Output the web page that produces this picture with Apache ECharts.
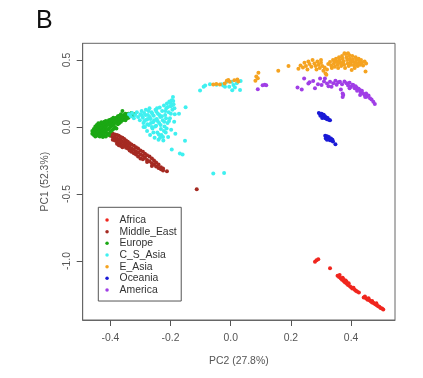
<!DOCTYPE html>
<html>
<head>
<meta charset="utf-8">
<script src="https://cdn.jsdelivr.net/npm/echarts@6/dist/echarts.min.js"></script>
<style>
html,body{margin:0;padding:0;background:#fff;}
#chart{width:423px;height:378px;}
</style>
</head>
<body>
<div id="chart"></div>
<script>
// ---- data: [PC2, PC1] pairs ----
var groupNames = ['Africa', 'Middle_East', 'Europe', 'C_S_Asia', 'E_Asia', 'Oceania', 'America'];
var groupColors = ['#f0261e', '#a52a22', '#1ba814', '#3ff0f0', '#f5a320', '#1a1ad6', '#a03ee6'];
var xTicks = [-0.4, -0.2, 0.0, 0.2, 0.4];
var yTicks = [-1.0, -0.5, 0.0, 0.5];

var africa = [
  [0.280,-1.005],[0.285,-0.995],[0.291,-0.987],[0.330,-1.054],
  [0.355,-1.110],[0.360,-1.120],[0.362,-1.105],[0.366,-1.130],[0.370,-1.140],[0.372,-1.125],
  [0.376,-1.150],[0.380,-1.160],[0.382,-1.145],[0.386,-1.170],[0.390,-1.178],[0.392,-1.165],
  [0.396,-1.188],[0.400,-1.195],[0.404,-1.205],[0.408,-1.200],[0.412,-1.215],[0.416,-1.222],
  [0.420,-1.228],[0.426,-1.235],[0.375,-1.135],[0.385,-1.155],
  [0.442,-1.272],[0.446,-1.265],[0.450,-1.280],[0.455,-1.288],[0.458,-1.278],[0.462,-1.295],
  [0.466,-1.302],[0.470,-1.298],[0.474,-1.312],[0.478,-1.318],[0.482,-1.325],[0.486,-1.330],
  [0.490,-1.338],[0.494,-1.342],[0.498,-1.350],[0.503,-1.355],[0.507,-1.362],[0.484,-1.315],[0.470,-1.310]
];

var middleEast = [
  [-0.410,-0.050],[-0.400,-0.045],[-0.400,-0.065],
  [-0.392,-0.050],[-0.392,-0.075],[-0.392,-0.095],
  [-0.385,-0.055],[-0.385,-0.080],[-0.385,-0.100],
  [-0.378,-0.060],[-0.378,-0.085],[-0.378,-0.110],[-0.378,-0.125],
  [-0.372,-0.065],[-0.372,-0.095],[-0.372,-0.120],[-0.372,-0.135],
  [-0.366,-0.075],[-0.366,-0.100],[-0.366,-0.125],[-0.366,-0.140],
  [-0.360,-0.080],[-0.360,-0.110],[-0.360,-0.135],[-0.360,-0.150],
  [-0.354,-0.090],[-0.354,-0.115],[-0.354,-0.140],
  [-0.348,-0.100],[-0.348,-0.125],[-0.348,-0.155],
  [-0.342,-0.110],[-0.342,-0.135],[-0.342,-0.160],
  [-0.336,-0.120],[-0.336,-0.150],[-0.336,-0.175],
  [-0.330,-0.130],[-0.330,-0.160],[-0.330,-0.185],
  [-0.322,-0.140],[-0.322,-0.170],[-0.322,-0.195],
  [-0.315,-0.150],[-0.315,-0.180],[-0.315,-0.205],
  [-0.308,-0.160],[-0.308,-0.190],[-0.308,-0.220],
  [-0.300,-0.175],[-0.300,-0.205],[-0.300,-0.235],
  [-0.292,-0.185],[-0.292,-0.215],[-0.292,-0.240],
  [-0.285,-0.200],[-0.285,-0.230],
  [-0.278,-0.210],[-0.278,-0.245],[-0.278,-0.260],
  [-0.270,-0.220],[-0.270,-0.255],
  [-0.262,-0.235],[-0.262,-0.270],[-0.262,-0.290],
  [-0.255,-0.250],[-0.255,-0.280],
  [-0.248,-0.265],[-0.248,-0.295],
  [-0.240,-0.280],[-0.240,-0.305],
  [-0.232,-0.300],[-0.232,-0.315],
  [-0.225,-0.310],[-0.225,-0.325],
  [-0.212,-0.330],
  [-0.113,-0.465]
];

var europe = [
  [-0.460,-0.050],[-0.460,-0.030],
  [-0.455,-0.060],[-0.455,-0.040],[-0.455,-0.015],
  [-0.450,-0.070],[-0.450,-0.045],[-0.450,-0.020],[-0.450,0.005],
  [-0.445,-0.055],[-0.445,-0.030],[-0.445,-0.005],[-0.445,0.015],
  [-0.440,-0.065],[-0.440,-0.040],[-0.440,-0.015],[-0.440,0.010],[-0.440,0.028],
  [-0.435,-0.070],[-0.435,-0.050],[-0.435,-0.025],[-0.435,0.000],[-0.435,0.020],
  [-0.430,-0.060],[-0.430,-0.035],[-0.430,-0.010],[-0.430,0.015],[-0.430,0.035],
  [-0.425,-0.075],[-0.425,-0.045],[-0.425,-0.020],[-0.425,0.005],[-0.425,0.030],
  [-0.420,-0.065],[-0.420,-0.040],[-0.420,-0.015],[-0.420,0.010],[-0.420,0.040],
  [-0.415,-0.070],[-0.415,-0.030],[-0.415,0.000],[-0.415,0.025],[-0.415,0.045],
  [-0.410,-0.050],[-0.410,-0.020],[-0.410,0.015],[-0.410,0.035],
  [-0.405,-0.060],[-0.405,-0.010],[-0.405,0.020],[-0.405,0.050],
  [-0.400,-0.035],[-0.400,0.000],[-0.400,0.030],[-0.400,0.055],
  [-0.395,-0.025],[-0.395,0.010],[-0.395,0.040],[-0.395,0.060],
  [-0.390,-0.015],[-0.390,0.020],[-0.390,0.050],[-0.390,0.070],
  [-0.385,0.000],[-0.385,0.030],[-0.385,0.060],
  [-0.380,-0.010],[-0.380,0.040],[-0.380,0.070],
  [-0.375,0.020],[-0.375,0.050],[-0.375,0.080],
  [-0.370,0.030],[-0.370,0.060],[-0.370,0.085],
  [-0.365,0.040],[-0.365,0.070],[-0.365,0.095],
  [-0.360,0.050],[-0.360,0.080],[-0.360,0.120],
  [-0.355,0.060],[-0.355,0.090],
  [-0.350,0.050],[-0.350,0.075],[-0.350,0.100],
  [-0.345,0.065],[-0.345,0.090],
  [-0.340,0.070],[-0.340,0.100],
  [-0.335,0.080],[-0.335,0.095],
  [-0.330,0.085],[-0.330,0.105],
  [-0.325,0.090],[-0.320,0.095]
];

var cSAsia = [
  [-0.338,0.095],[-0.332,0.080],[-0.328,0.105],[-0.322,0.065],[-0.318,0.090],[-0.312,0.110],
  [-0.308,0.075],[-0.302,0.050],[-0.300,0.095],[-0.296,0.120],
  [-0.292,0.070],[-0.290,0.030],[-0.288,0.105],[-0.285,0.000],[-0.282,0.130],[-0.280,0.055],
  [-0.278,-0.030],[-0.275,0.090],[-0.272,0.015],[-0.270,0.140],[-0.268,-0.060],[-0.266,0.060],
  [-0.263,0.110],[-0.260,-0.010],[-0.258,0.035],[-0.256,0.085],[-0.253,-0.080],[-0.250,0.130],
  [-0.248,0.010],[-0.246,0.060],[-0.244,-0.040],[-0.242,0.100],[-0.240,-0.095],[-0.238,0.030],
  [-0.236,0.145],[-0.234,0.075],[-0.232,-0.015],[-0.230,-0.060],[-0.228,0.120],[-0.226,0.050],
  [-0.224,-0.100],[-0.222,0.160],[-0.220,0.005],[-0.218,0.090],[-0.216,-0.040],[-0.214,0.140],
  [-0.212,0.175],[-0.210,0.030],[-0.208,-0.075],[-0.206,0.110],[-0.204,0.190],[-0.202,0.065],
  [-0.200,0.155],[-0.198,-0.020],[-0.196,0.200],[-0.194,0.130],[-0.192,0.225],[-0.190,0.170],
  [-0.188,0.040],[-0.186,0.095],[-0.184,-0.050],
  [-0.295,0.085],[-0.287,0.045],[-0.283,0.090],[-0.277,0.020],[-0.273,0.120],[-0.269,0.075],
  [-0.265,0.030],[-0.261,0.100],[-0.257,-0.040],[-0.254,0.050],[-0.251,0.005],[-0.247,0.115],
  [-0.243,0.045],[-0.239,-0.055],[-0.237,0.090],[-0.233,0.015],[-0.229,0.080],[-0.225,-0.075],
  [-0.221,0.040],[-0.217,0.120],[-0.213,-0.010],[-0.209,0.150],[-0.205,0.045],[-0.201,0.180],
  [-0.199,0.100],[-0.195,0.160],[-0.191,0.195],[-0.187,0.140],[-0.215,0.065],[-0.245,0.140],
  [-0.262,0.000],[-0.276,0.060],[-0.290,0.000],[-0.235,-0.080],[-0.222,-0.030],
  [-0.172,0.100],[-0.150,0.147],[-0.152,-0.103],[-0.196,-0.168],[-0.169,-0.197],[-0.160,-0.205],
  [-0.058,-0.346],[-0.022,-0.343],
  [-0.102,0.272],[-0.090,0.300],[-0.085,0.310],[-0.069,0.320],[-0.047,0.315],[-0.030,0.320],
  [-0.025,0.310],[-0.019,0.300],[-0.013,0.338],[0.003,0.338],[0.009,0.313],[0.014,0.295],
  [0.020,0.326],[0.031,0.276],[0.033,0.343],[0.005,0.275],[-0.005,0.300]
];

var eAsia = [
  [-0.058,0.318],[-0.048,0.322],[-0.036,0.318],[-0.020,0.325],[-0.013,0.345],[-0.008,0.352],
  [-0.003,0.338],[0.012,0.350],[0.022,0.355],[0.025,0.340],
  [0.082,0.345],[0.085,0.378],[0.090,0.364],[0.092,0.405],[0.158,0.420],[0.192,0.455],
  [0.225,0.435],[0.232,0.460],[0.240,0.445],[0.245,0.480],[0.250,0.455],[0.258,0.490],
  [0.262,0.470],[0.268,0.450],[0.272,0.500],[0.278,0.475],[0.282,0.455],[0.288,0.490],
  [0.292,0.465],[0.296,0.440],[0.300,0.480],[0.304,0.455],[0.308,0.420],[0.312,0.445],
  [0.315,0.400],[0.318,0.390],[0.320,0.430],[0.324,0.470],[0.255,0.430],[0.285,0.430],[0.300,0.500],
  [0.330,0.485],[0.334,0.460],[0.336,0.440],[0.340,0.500],[0.343,0.475],[0.346,0.450],
  [0.350,0.510],[0.352,0.490],[0.355,0.465],[0.357,0.440],[0.360,0.520],[0.362,0.500],
  [0.365,0.480],[0.367,0.455],[0.370,0.530],[0.372,0.510],[0.375,0.490],[0.377,0.465],
  [0.380,0.440],[0.382,0.545],[0.385,0.520],[0.387,0.500],[0.389,0.475],[0.392,0.455],
  [0.394,0.535],[0.396,0.510],[0.398,0.490],[0.400,0.465],[0.402,0.425],[0.404,0.530],
  [0.406,0.505],[0.408,0.485],[0.410,0.460],[0.412,0.440],[0.415,0.520],[0.418,0.500],
  [0.420,0.475],[0.422,0.455],[0.425,0.510],[0.428,0.490],[0.430,0.465],[0.433,0.500],
  [0.436,0.480],[0.440,0.460],[0.445,0.490],[0.450,0.475],[0.448,0.415],[0.390,0.550],
  [0.378,0.550],[0.358,0.480],[0.345,0.495],[0.368,0.470],[0.395,0.470],[0.415,0.480],[0.425,0.470]
];

var oceania = [
  [0.293,0.105],[0.297,0.098],[0.300,0.090],[0.302,0.100],[0.305,0.085],[0.307,0.075],
  [0.309,0.092],[0.311,0.070],[0.313,0.080],[0.315,0.065],[0.318,0.072],[0.320,0.058],
  [0.322,0.068],[0.326,0.055],[0.330,0.050],[0.298,0.085],[0.304,0.068],
  [0.314,-0.065],[0.318,-0.075],[0.316,-0.085],[0.320,-0.068],[0.322,-0.080],[0.324,-0.092],
  [0.326,-0.075],[0.328,-0.088],[0.330,-0.098],[0.333,-0.085],[0.335,-0.100],[0.338,-0.095],
  [0.340,-0.108],[0.348,-0.128],[0.320,-0.095]
];

var america = [
  [0.090,0.282],[0.106,0.312],[0.113,0.316],[0.118,0.312],
  [0.222,0.296],[0.236,0.281],[0.244,0.363],[0.258,0.325],[0.274,0.343],[0.280,0.289],
  [0.290,0.320],[0.297,0.363],[0.302,0.313],[0.310,0.340],[0.313,0.363],[0.320,0.325],
  [0.330,0.338],[0.335,0.300],[0.341,0.326],[0.348,0.345],[0.352,0.315],[0.358,0.335],
  [0.363,0.338],[0.366,0.281],[0.370,0.320],[0.372,0.250],[0.374,0.239],[0.372,0.225],
  [0.378,0.340],[0.385,0.326],[0.390,0.310],[0.395,0.330],[0.400,0.300],[0.405,0.315],
  [0.407,0.313],[0.412,0.290],[0.418,0.296],[0.420,0.270],[0.425,0.285],[0.429,0.276],
  [0.432,0.260],[0.436,0.270],[0.440,0.251],[0.445,0.240],[0.450,0.250],[0.452,0.226],
  [0.458,0.235],[0.463,0.214],[0.468,0.205],[0.474,0.189],[0.479,0.172],[0.395,0.290],
  [0.415,0.305],[0.430,0.240],[0.447,0.225],[0.262,0.335],[0.325,0.305]
];

var groupData = [africa, middleEast, europe, cSAsia, eAsia, oceania, america];

// ---- chart ----
var chart = echarts.init(document.getElementById('chart'), null, {renderer: 'canvas'});
var font = '"Liberation Sans", Arial, sans-serif';
var gray = '#555';

var series = groupNames.map(function (name, i) {
  return {
    name: name,
    type: 'scatter',
    data: groupData[i],
    symbol: 'circle',
    symbolSize: 4,
    itemStyle: {color: groupColors[i], opacity: 1},
    emphasis: {disabled: true}
  };
});

chart.setOption({
  animation: false,
  backgroundColor: '#fff',
  title: {
    text: 'B',
    left: 31,
    top: 4,
    textStyle: {fontFamily: font, fontSize: 25, fontWeight: 'normal', color: '#111'}
  },
  grid: {
    left: 82.7, right: 28, top: 43.3, bottom: 58,
    show: true, borderColor: '#666', borderWidth: 1, backgroundColor: 'transparent'
  },
  legend: {
    orient: 'vertical',
    left: 98.3,
    top: 207.3,
    icon: 'circle',
    itemWidth: 15,
    itemHeight: 3.5,
    itemGap: 1.67,
    padding: [7.7, 4.5, 6, 7],
    borderColor: '#555',
    borderWidth: 1,
    selectedMode: false,
    textStyle: {fontFamily: font, fontSize: 10.4, color: '#333', lineHeight: 10},
    data: groupNames
  },
  xAxis: {
    type: 'value',
    min: -0.492,
    max: 0.546,
    name: 'PC2 (27.8%)',
    nameLocation: 'middle',
    nameGap: 36,
    nameTextStyle: {fontFamily: font, fontSize: 10.4, color: gray},
    axisLine: {show: true, onZero: false, lineStyle: {color: '#666', width: 1}},
    splitLine: {show: false},
    axisTick: {show: true, length: 6, lineStyle: {color: gray}, customValues: xTicks},
    axisLabel: {
      fontFamily: font, fontSize: 10.4, color: gray, margin: 13,
      customValues: xTicks,
      formatter: function (v) { return v.toFixed(1); }
    }
  },
  yAxis: {
    type: 'value',
    min: -1.44,
    max: 0.625,
    name: 'PC1 (52.3%)',
    nameLocation: 'middle',
    nameGap: 33,
    nameRotate: 90,
    nameTextStyle: {fontFamily: font, fontSize: 10.4, color: gray},
    axisLine: {show: true, onZero: false, lineStyle: {color: '#666', width: 1}},
    splitLine: {show: false},
    axisTick: {show: true, length: 6, lineStyle: {color: gray}, customValues: yTicks},
    axisLabel: {
      fontFamily: font, fontSize: 10.4, color: gray, margin: 11, rotate: 90,
      customValues: yTicks,
      formatter: function (v) { return v.toFixed(1); }
    }
  },
  series: series
});
</script>
</body>
</html>
